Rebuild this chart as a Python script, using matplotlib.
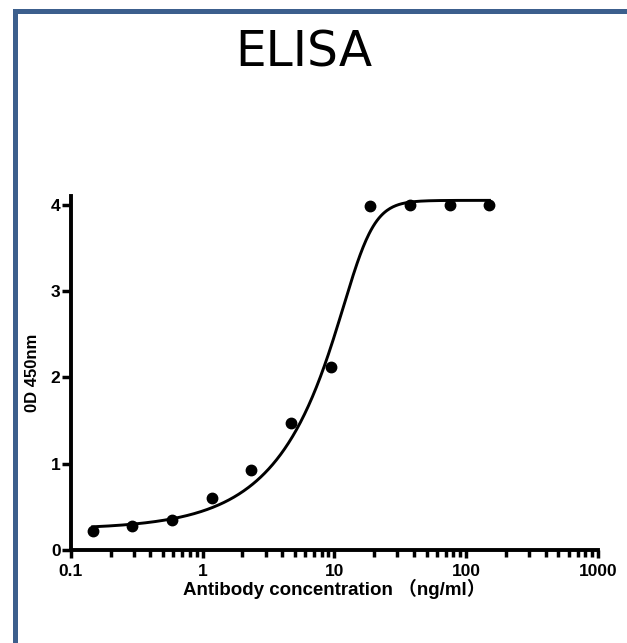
import numpy as np
import matplotlib
matplotlib.use("Agg")
import matplotlib.pyplot as plt
from matplotlib.patches import Rectangle
from matplotlib.ticker import FixedLocator, FixedFormatter, LogLocator, NullFormatter

# Data
conc = [0.146, 0.293, 0.586, 1.17, 2.34, 4.69, 9.375, 18.75, 37.5, 75, 150]
od450 = [0.22, 0.28, 0.35, 0.60, 0.93, 1.47, 2.12, 3.99, 4.00, 4.00, 4.00]
x_ticks = [0.1, 1, 10, 100, 1000]
x_tick_labels = ['0.1', '1', '10', '100', '1000']
y_ticks = [0, 1, 2, 3, 4]

# fitted curve parameters (asymmetric sigmoid)
fit_bottom, fit_top = 0.24, 4.05
fit_c, fit_h, fit_s = 16.3, 4.5, 0.23

fig = plt.figure(figsize=(6.27, 6.43), dpi=100)

# blue frame (top and left edges)
blue = '#3c5f8d'
fig.add_artist(Rectangle((13 / 627, (643 - 14) / 643), 1, 5 / 643,
                         transform=fig.transFigure, color=blue, lw=0))
fig.add_artist(Rectangle((13 / 627, 0), 5 / 627, (643 - 9) / 643,
                         transform=fig.transFigure, color=blue, lw=0))

fig.text(0.485, 0.918, 'ELISA', ha='center', va='center', fontsize=35,
         family='DejaVu Sans')

ax = fig.add_axes([0.1132, 0.1446, 0.8405, 0.5505])
ax.set_xscale('log')

xs = np.logspace(np.log10(conc[0]), np.log10(conc[-1]), 400)
ys = fit_bottom + (fit_top - fit_bottom) / (1 + (fit_c / xs) ** fit_h) ** fit_s
ax.plot(xs, ys, color='black', lw=2.1)
ax.plot(conc, od450, 'o', color='black', ms=7.5, clip_on=False)

ax.set_xlim(0.1, 1000)
ax.set_ylim(0, 4.1)

for side in ['top', 'right']:
    ax.spines[side].set_visible(False)
for side in ['left', 'bottom']:
    ax.spines[side].set_linewidth(2.8)

ax.xaxis.set_major_locator(FixedLocator(x_ticks))
ax.xaxis.set_major_formatter(FixedFormatter(x_tick_labels))
ax.xaxis.set_minor_locator(LogLocator(base=10, subs=np.arange(2, 10)))
ax.xaxis.set_minor_formatter(NullFormatter())
ax.set_yticks(y_ticks)

ax.tick_params(axis='y', which='major', length=6.5, width=2.5, labelsize=12.5, pad=1)
ax.tick_params(axis='x', which='major', length=6, width=2.5, labelsize=12.5, pad=4)
ax.tick_params(axis='x', which='minor', length=4.7, width=2.5)
for lab in ax.get_xticklabels() + ax.get_yticklabels():
    lab.set_fontfamily('Liberation Sans')
    lab.set_fontweight('bold')

ax.set_xlabel('Antibody concentration （ng/ml）', fontsize=13.5, fontweight='bold',
              family=['Liberation Sans', 'Noto Sans CJK SC'], labelpad=0)
ax.set_ylabel('0D 450nm', fontsize=12, fontweight='bold',
              family='Liberation Sans', labelpad=8)

fig.savefig('out.png', dpi=100)
